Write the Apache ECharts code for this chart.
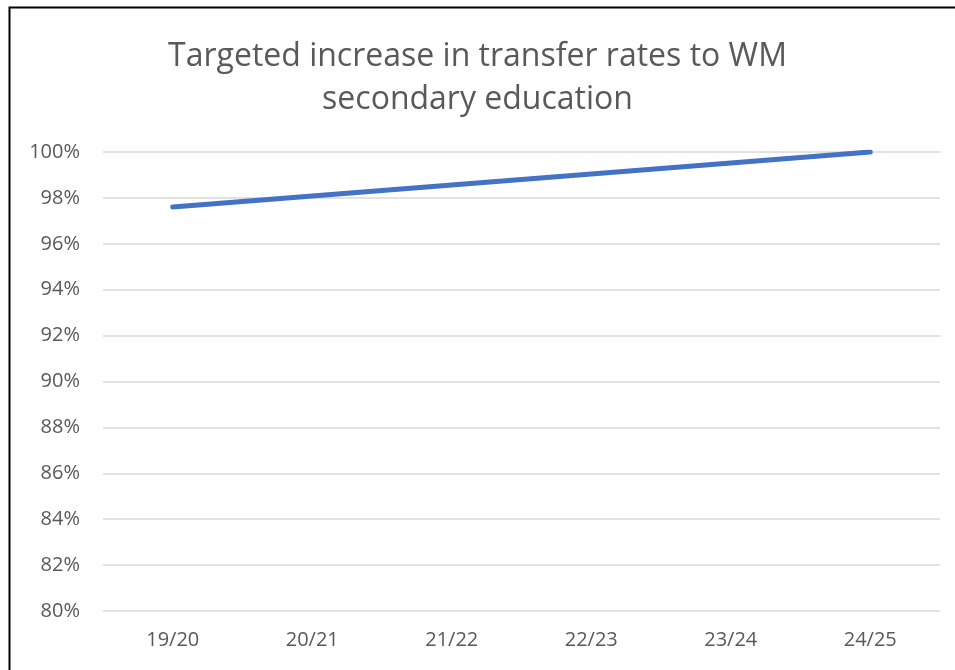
<!DOCTYPE html>
<html>
<head>
<meta charset="utf-8">
<script src="https://cdn.jsdelivr.net/npm/echarts@6/dist/echarts.min.js"></script>
<style>
  html, body { margin: 0; padding: 0; background: #fff; }
  #main { width: 955px; height: 670px; }
</style>
</head>
<body>
<div id="main"></div>
<script>
var years = ['19/20', '20/21', '21/22', '22/23', '23/24', '24/25'];
var rates = [97.6, 98.08, 98.56, 99.04, 99.52, 100];
var yTicks = [80, 100, 2];

var myChart = echarts.init(document.getElementById('main'));
var font = '"Open Sans", "Noto Sans", sans-serif';

var option = {
  backgroundColor: '#fff',
  animation: false,
  title: {
    text: 'Targeted increase in transfer rates to WM\nsecondary education',
    left: 'center',
    top: 30,
    textStyle: {
      color: '#595959',
      fontFamily: font,
      fontWeight: 'normal',
      fontSize: 32,
      lineHeight: 43
    }
  },
  graphic: [{
    type: 'rect',
    shape: { x: 9.5, y: 7.5, width: 1000, height: 700 },
    style: { fill: 'none', stroke: '#000', lineWidth: 2 },
    silent: true
  }],
  grid: { left: 103, right: 15, top: 152, bottom: 59 },
  xAxis: {
    type: 'category',
    data: years,
    boundaryGap: true,
    axisLine: { show: false },
    axisTick: { show: false },
    axisLabel: { color: '#595959', fontFamily: font, fontSize: 20, margin: 19 }
  },
  yAxis: {
    type: 'value',
    min: yTicks[0],
    max: yTicks[1],
    interval: yTicks[2],
    axisLine: { show: false },
    axisTick: { show: false },
    splitLine: { lineStyle: { color: '#d9d9d9', width: 1.5 } },
    axisLabel: {
      color: '#595959', fontFamily: font, fontSize: 20, margin: 23,
      formatter: function (v) { return v + '%'; }
    }
  },
  series: [{
    type: 'line',
    data: rates,
    symbol: 'none',
    lineStyle: { color: '#4472C4', width: 5, cap: 'round' }
  }]
};

myChart.setOption(option);
</script>
</body>
</html>
